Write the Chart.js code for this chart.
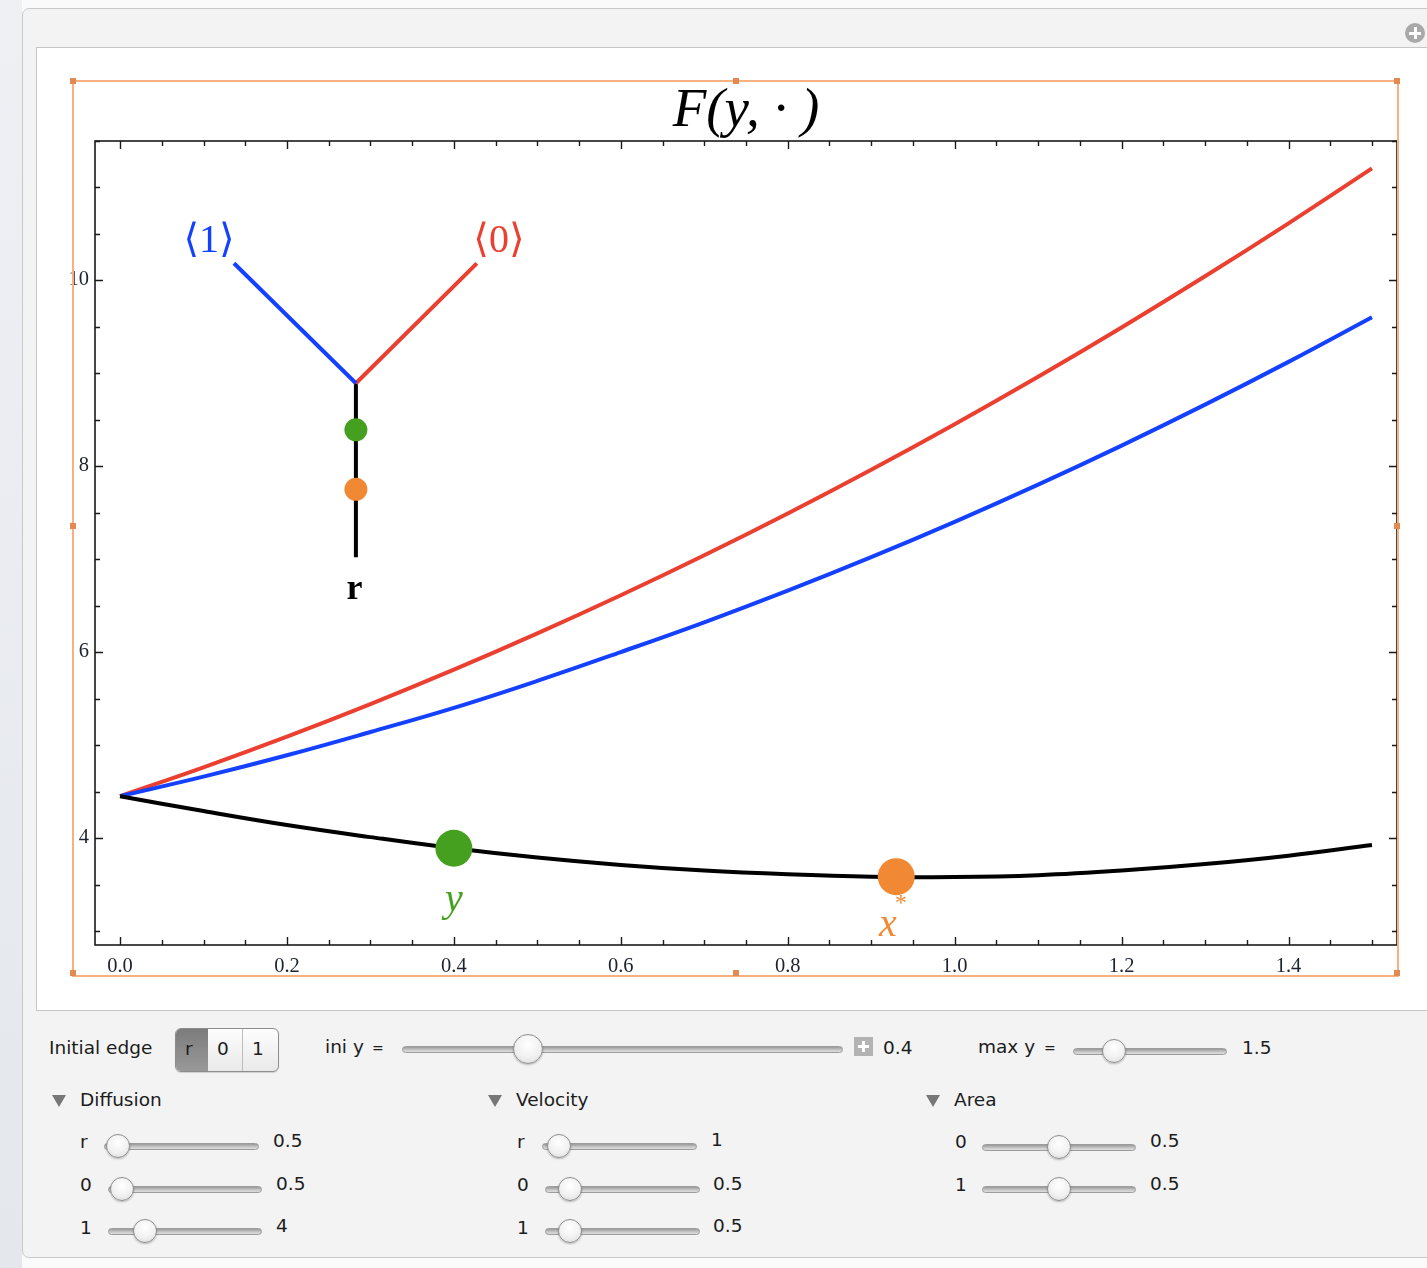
<!DOCTYPE html>
<html>
<head>
<meta charset="utf-8">
<script src="https://cdn.jsdelivr.net/npm/chart.js@4.4.0/dist/chart.umd.min.js"></script>
<style>
html, body { margin: 0; padding: 0; }
body { width: 1427px; height: 1268px; position: relative; overflow: hidden; background: #fafafa; font-family: "DejaVu Sans", sans-serif; color: #1c1c1c; }
#backdrop { position: absolute; left: 0; top: 0; width: 22px; height: 1268px; background: linear-gradient(#eef0f4, #e4e7ec); }
#panel { position: absolute; left: 22px; top: 8px; width: 1430px; height: 1250px; background: #f3f3f3; border: 1px solid #c9c9c9; border-radius: 7px; box-sizing: border-box; }
#content { position: absolute; left: 36px; top: 47px; width: 1420px; height: 964px; background: #fff; border: 1px solid #c6c6c6; box-sizing: border-box; }
#plot { position: absolute; left: 36px; top: 47px; }
#sel { position: absolute; left: 72px; top: 80px; width: 1327px; height: 897px; border: 2px solid #f7b080; box-sizing: border-box; pointer-events: none; }
.handle { position: absolute; width: 6px; height: 6px; background: #e38a52; }
#addbtn { position: absolute; left: 1405px; top: 23px; width: 20px; height: 20px; border-radius: 50%; background: #a9a9a9; }
#addbtn:before { content: ""; position: absolute; left: 4px; top: 8.5px; width: 12px; height: 3px; background: #fff; }
#addbtn:after { content: ""; position: absolute; left: 8.5px; top: 4px; width: 3px; height: 12px; background: #fff; }
.txt { position: absolute; font-size: 18.5px; line-height: 24px; white-space: nowrap; }
.track { position: absolute; height: 7px; border-radius: 4px; background: linear-gradient(#9a9a9a, #c9c9c9 60%, #dedede); border: 1px solid #9c9c9c; box-sizing: border-box; }
.knob { position: absolute; border-radius: 50%; background: radial-gradient(circle at 50% 35%, #ffffff, #f1f1f1 55%, #d6d6d6); border: 1px solid #8f8f8f; box-sizing: border-box; box-shadow: 0 1px 2px rgba(0,0,0,0.25); }
.tri { position: absolute; width: 0; height: 0; border-left: 7px solid transparent; border-right: 7px solid transparent; border-top: 12px solid #777; }
#seg { position: absolute; left: 175px; top: 1028px; width: 104px; height: 44px; border: 1px solid #8d8d8d; border-radius: 6px; box-sizing: border-box; background: linear-gradient(#fdfdfd, #e9e9e9); overflow: hidden; box-shadow: 0 1px 1px rgba(0,0,0,0.15); }
#seg .on { position: absolute; left: 0; top: 0; width: 32px; height: 44px; background: linear-gradient(#7c7c7c, #9a9a9a); }
#seg .div { position: absolute; left: 66px; top: 0; width: 1px; height: 44px; background: #bdbdbd; }
#plusbox { position: absolute; left: 854px; top: 1037px; width: 19px; height: 19px; background: #b3b3b3; }
#plusbox:before { content: ""; position: absolute; left: 4px; top: 8px; width: 11px; height: 3px; background: #fff; }
#plusbox:after { content: ""; position: absolute; left: 8px; top: 4px; width: 3px; height: 11px; background: #fff; }
</style>
</head>
<body>
<div id="backdrop"></div>
<div id="panel"></div>
<div id="addbtn"></div>
<div id="content"></div>
<canvas id="plot" width="1391" height="963"></canvas>
<div id="sel"></div>
<div id="seg"><div class="on"></div><div class="div"></div></div>
<div id="plusbox"></div>
<script>
// curve values, x step 0.1
const xValues = [0, 0.1, 0.2, 0.3, 0.4, 0.5, 0.6, 0.7, 0.8, 0.9, 1.0, 1.1, 1.2, 1.3, 1.4, 1.5];
const edge0 = [4.45, 4.76, 5.09, 5.44, 5.81, 6.20, 6.61, 7.04, 7.49, 7.96, 8.45, 8.96, 9.49, 10.04, 10.61, 11.20];
const edge1 = [4.45, 4.66, 4.89, 5.14, 5.40, 5.69, 6.00, 6.32, 6.66, 7.02, 7.40, 7.80, 8.22, 8.66, 9.12, 9.60];
const edgeR = [4.45, 4.29, 4.14, 4.01, 3.89, 3.79, 3.71, 3.65, 3.61, 3.585, 3.58, 3.60, 3.65, 3.72, 3.81, 3.925];

// markers on the root curve
const yPoint = { x: 0.4, y: 3.89 };
const xStar = { x: 0.93, y: 3.585 };

// little tree drawn inside the plot
const treeBlue = [{ x: 0.1365, y: 10.18 }, { x: 0.2826, y: 8.89 }];
const treeRed = [{ x: 0.2826, y: 8.89 }, { x: 0.4275, y: 10.18 }];
const treeStem = [{ x: 0.2826, y: 8.89 }, { x: 0.2826, y: 7.02 }];
const treeGreen = { x: 0.2826, y: 8.39 };
const treeOrange = { x: 0.2826, y: 7.75 };

const xTickLabels = [0, 0.2, 0.4, 0.6, 0.8, 1.0, 1.2, 1.4];
const yTickLabels = [4, 6, 8, 10];

const RED = "#eb3f30";
const BLUE = "#1441ff";
const GREEN = "#45a01f";
const ORANGE = "#f18833";

const serif = '"Liberation Serif", "DejaVu Serif", serif';

let pts = (ys) => xValues.map((x, i) => ({ x: x, y: ys[i] }));

const notes = [
    { text: "\u27E81\u27E9", x: 0.1066, y: 10.41, color: BLUE, font: "40px " + serif },
    { text: "\u27E80\u27E9", x: 0.454, y: 10.41, color: RED, font: "40px " + serif },
    { text: "r", x: 0.281, y: 6.67, color: "#000", font: "bold 36px " + serif },
    { text: "y", x: 0.4, y: 3.33, color: GREEN, font: "italic 40px " + serif },
    { text: "x", x: 0.92, y: 3.06, color: ORANGE, font: "italic 40px " + serif, sup: "*" }
];

let frameAndTicks = {
    id: "frameAndTicks",
    beforeDatasetsDraw(chart) {
        let ctx = chart.ctx;
        let a = chart.chartArea;
        let sx = chart.scales.x;
        let sy = chart.scales.y;
        ctx.save();
        ctx.strokeStyle = "#1a1a1a";
        ctx.lineWidth = 1.6;
        ctx.strokeRect(a.left, a.top, a.right - a.left, a.bottom - a.top);
        ctx.lineWidth = 1.4;
        ctx.beginPath();
        for (let k = 0; k <= 30; k++) {
            let v = k * 0.05;
            let len = k % 4 == 0 ? 8 : 5;
            let px = Math.round(sx.getPixelForValue(v)) + 0.5;
            ctx.moveTo(px, a.bottom); ctx.lineTo(px, a.bottom - len);
            ctx.moveTo(px, a.top); ctx.lineTo(px, a.top + len);
        }
        for (let k = 6; k <= 23; k++) {
            let v = k * 0.5;
            let len = k % 4 == 0 ? 8 : 5;
            let py = Math.round(sy.getPixelForValue(v)) + 0.5;
            ctx.moveTo(a.left, py); ctx.lineTo(a.left + len, py);
            ctx.moveTo(a.right, py); ctx.lineTo(a.right - len, py);
        }
        ctx.stroke();
        ctx.restore();
    },
    afterDatasetsDraw(chart) {
        let ctx = chart.ctx;
        let sx = chart.scales.x;
        let sy = chart.scales.y;
        ctx.save();
        ctx.textAlign = "center";
        ctx.textBaseline = "middle";
        notes.forEach((n) => {
            let px = sx.getPixelForValue(n.x);
            let py = sy.getPixelForValue(n.y);
            ctx.font = n.font;
            ctx.fillStyle = n.color;
            ctx.fillText(n.text, px, py);
            if (n.sup) {
                let w = ctx.measureText(n.text).width;
                ctx.font = "italic 24px " + serif;
                ctx.fillText(n.sup, px + w / 2 + 3, py - 22);
            }
        });
        ctx.restore();
    }
};

let datasets = [
    { data: [yPoint], pointRadius: 18.5, pointBackgroundColor: GREEN, pointBorderWidth: 0 },
    { data: [xStar], pointRadius: 18.5, pointBackgroundColor: ORANGE, pointBorderWidth: 0 },
    { data: [treeGreen], pointRadius: 11.5, pointBackgroundColor: GREEN, pointBorderWidth: 0 },
    { data: [treeOrange], pointRadius: 11.5, pointBackgroundColor: ORANGE, pointBorderWidth: 0 },
    { data: pts(edgeR), showLine: true, borderColor: "#000", borderWidth: 4, pointRadius: 0, tension: 0.4 },
    { data: pts(edge1), showLine: true, borderColor: BLUE, borderWidth: 4, pointRadius: 0, tension: 0.4 },
    { data: pts(edge0), showLine: true, borderColor: RED, borderWidth: 4, pointRadius: 0, tension: 0.4 },
    { data: treeBlue, showLine: true, borderColor: BLUE, borderWidth: 4, pointRadius: 0 },
    { data: treeRed, showLine: true, borderColor: RED, borderWidth: 4, pointRadius: 0 },
    { data: treeStem, showLine: true, borderColor: "#000", borderWidth: 4, pointRadius: 0 }
];

let config = {
    type: "scatter",
    data: { datasets },
    options: {
        responsive: false,
        animation: false,
        events: [],
        layout: { padding: { top: 0, right: 30, bottom: 0, left: 0 } },
        plugins: {
            legend: { display: false },
            tooltip: { enabled: false },
            title: {
                display: true,
                text: "F(y, \u00B7 )",
                fullSize: false,
                color: "#000",
                font: { family: serif, size: 55, style: "italic", weight: "normal", lineHeight: 1.0 },
                padding: { top: 37, bottom: 2 }
            }
        },
        scales: {
            x: {
                type: "linear",
                min: -0.03,
                max: 1.53,
                grid: { display: false, drawTicks: false },
                border: { display: false },
                afterFit: (s) => { s.height = 65; },
                afterBuildTicks: (s) => { s.ticks = xTickLabels.map((v) => ({ value: v })); },
                ticks: {
                    padding: 9,
                    color: "#1b2230",
                    font: { family: serif, size: 20.5 },
                    callback: (v) => Number(v).toFixed(1)
                }
            },
            y: {
                type: "linear",
                min: 2.85,
                max: 11.495,
                grid: { display: false, drawTicks: false },
                border: { display: false },
                afterFit: (s) => { s.width = 59; },
                afterBuildTicks: (s) => { s.ticks = yTickLabels.map((v) => ({ value: v })); },
                ticks: {
                    padding: 6,
                    color: "#1b2230",
                    font: { family: serif, size: 20.5 },
                    callback: (v) => String(v)
                }
            }
        }
    },
    plugins: [frameAndTicks]
};

let myChart = new Chart(document.querySelector("#plot"), config);

// selection handles on the orange frame
[[72, 80], [735, 80], [1396, 80], [72, 525], [1396, 525], [72, 972], [735, 972], [1396, 972]].forEach((p) => {
    let h = document.createElement("div");
    h.className = "handle";
    h.style.left = (p[0] - 2) + "px";
    h.style.top = (p[1] - 2) + "px";
    document.body.appendChild(h);
});

// control panel
function txt(s, x, y, size) {
    let d = document.createElement("div");
    d.className = "txt";
    d.textContent = s;
    d.style.left = x + "px";
    d.style.top = (y - 12) + "px";
    if (size) d.style.fontSize = size + "px";
    document.body.appendChild(d);
}

function slider(x1, x2, y, knob, r) {
    let t = document.createElement("div");
    t.className = "track";
    t.style.left = x1 + "px";
    t.style.top = (y - 3.5) + "px";
    t.style.width = (x2 - x1) + "px";
    document.body.appendChild(t);
    let k = document.createElement("div");
    k.className = "knob";
    k.style.left = (knob - r) + "px";
    k.style.top = (y - r) + "px";
    k.style.width = 2 * r + "px";
    k.style.height = 2 * r + "px";
    document.body.appendChild(k);
}

function tri(x, y) {
    let t = document.createElement("div");
    t.className = "tri";
    t.style.left = x + "px";
    t.style.top = (y - 6) + "px";
    document.body.appendChild(t);
}

txt("Initial edge", 49, 1048);
txt("r", 185, 1049);
txt("0", 217, 1049);
txt("1", 252, 1049);
txt("ini y", 325, 1047);
txt("=", 372, 1048, 14);
slider(402, 843, 1049, 528, 15);
txt("0.4", 883, 1048);
txt("max y", 978, 1047);
txt("=", 1044, 1048, 14);
slider(1073, 1227, 1051, 1114, 12);
txt("1.5", 1242, 1048);

tri(52, 1101); txt("Diffusion", 80, 1100);
tri(488, 1101); txt("Velocity", 516, 1100);
tri(926, 1101); txt("Area", 954, 1100);

txt("r", 80, 1142); slider(104, 259, 1146, 118, 12); txt("0.5", 273, 1141);
txt("0", 80, 1185); slider(108, 262, 1189, 122, 12); txt("0.5", 276, 1184);
txt("1", 80, 1228); slider(108, 262, 1231, 145, 12); txt("4", 276, 1226);

txt("r", 517, 1142); slider(542, 697, 1146, 559, 12); txt("1", 711, 1140);
txt("0", 517, 1185); slider(545, 700, 1189, 570, 12); txt("0.5", 713, 1184);
txt("1", 517, 1228); slider(545, 700, 1231, 570, 12); txt("0.5", 713, 1226);

txt("0", 955, 1142); slider(982, 1136, 1147, 1059, 12); txt("0.5", 1150, 1141);
txt("1", 955, 1185); slider(982, 1136, 1189, 1059, 12); txt("0.5", 1150, 1184);
</script>
</body>
</html>
